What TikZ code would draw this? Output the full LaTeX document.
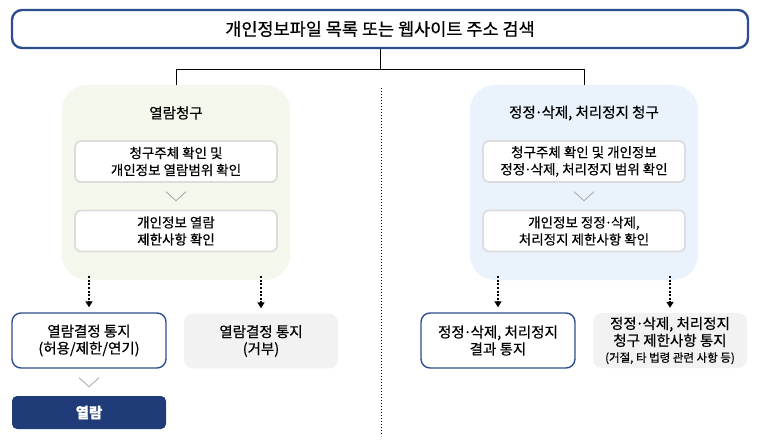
\documentclass[tikz,border=0pt]{standalone}
\usepackage{fontspec}
\setmainfont{Noto Sans CJK KR}[FakeBold=0.5]
\usetikzlibrary{arrows.meta,positioning,calc}
\definecolor{navy}{HTML}{2D4E8E}
\definecolor{darknavy}{HTML}{1F3C78}
\definecolor{greenbg}{HTML}{F4F7EC}
\definecolor{bluebg}{HTML}{EAF3FC}
\definecolor{greybg}{HTML}{F2F2F2}
\definecolor{rim}{HTML}{DCDCDC}
\definecolor{chevgrey}{HTML}{A6A6A6}
\tikzset{
  titlebox/.style={draw=navy,line width=2.4pt,rounded corners=10pt,fill=white,minimum width=736pt,
                   minimum height=38pt,font=\fontsize{17.5}{20}\selectfont},
  panel/.style={rounded corners=25pt,minimum width=228pt,minimum height=195pt,inner sep=0pt},
  ptitle/.style={font=\fontsize{14.5}{17}\selectfont},
  inner/.style={draw=rim,line width=1.8pt,rounded corners=6pt,fill=white,minimum width=202pt,
                minimum height=41pt,align=center,inner sep=2pt,font=\fontsize{13.5}{17}\selectfont},
  result/.style={draw=navy,line width=1.4pt,rounded corners=9pt,fill=white,minimum width=154pt,
                 minimum height=55pt,align=center,inner sep=2pt},
  refuse/.style={rounded corners=9pt,fill=greybg,minimum width=154pt,minimum height=55pt,align=center,
                 inner sep=2pt},
  final/.style={rounded corners=5pt,fill=darknavy,text=white,minimum width=154pt,minimum height=33pt,
                font=\fontsize{14.5}{17}\bfseries\selectfont},
  branch/.style={line width=0.9pt},
  dotarrow/.style={-{Triangle[length=6pt,width=7pt]},line width=1.8pt,dash pattern=on 2pt off 1.6pt,
                   shorten >=5pt},
  divider/.style={line width=0.9pt,dash pattern=on 1pt off 2pt},
  chev/.style={chevgrey,line width=0.8pt},
}
\newcommand{\chevron}[2]{\draw[chev] ($(#1.south)!0.5!(#2.north)+(-10,-4.5)$) -- ++(10,9) -- ++(10,-9);}
\newcommand{\mdot}{\kern-.08em·\kern-.08em}

\begin{document}
\begin{tikzpicture}[x=1pt,y=-1pt,font=\fontsize{14.5}{17}\selectfont]
  \useasboundingbox (0,0) rectangle (760,442);
  \node[titlebox] (top) at (380,29) {개인정보파일 목록 또는 웹사이트 주소 검색};

  % 열람청구
  \node[panel,fill=greenbg] (lp) at (176,182.5) {};
  \node[ptitle] (lpt) at (176,113) {열람청구};
  \node[inner] (l1) at (176,161.5) {청구주체 확인 및\\개인정보 열람범위 확인};
  \node[inner] (l2) at (176,231) {개인정보 열람\\제한사항 확인};
  \chevron{l1}{l2}

  % 정정·삭제, 처리정지 청구
  \node[panel,fill=bluebg] (rp) at (584,182.5) {};
  \node[ptitle] (rpt) at (584,113) {정정\mdot 삭제, 처리정지 청구};
  \node[inner] (r1) at (584,161.5) {청구주체 확인 및 개인정보\\정정\mdot 삭제, 처리정지 범위 확인};
  \node[inner] (r2) at (584,231) {개인정보 정정\mdot 삭제,\\처리정지 제한사항 확인};
  \chevron{r1}{r2}

  \draw[branch] (top.south) -- ++(0,20) coordinate (fork);
  \draw[branch] (fork) -| (lp.north);
  \draw[branch] (fork) -| (rp.north);

  \coordinate (d1) at (381,88);
  \coordinate (d2) at (381,436);
  \draw[divider] (d1) -- (d2);

  % 결과
  \node[result] (a1) at (89,340.5) {열람결정 통지\\(허용/제한/연기)};
  \node[refuse] (a2) at (261,341) {열람결정 통지\\(거부)};
  \node[final] (a3) at (89,412.5) {열람};
  \chevron{a1}{a3}
  \node[result] (b1) at (498,340.5) {정정\mdot 삭제, 처리정지\\결과 통지};
  \node[refuse] (b2) at (670,340.5) {\fontsize{14.5}{16}\selectfont 정정\mdot 삭제, 처리정지\\
    청구 제한사항 통지\\[-1pt]
    {\fontsize{11.5}{14}\selectfont (거절, 타 법령 관련 사항 등)}};

  \foreach \n in {a1,a2,b1,b2}
    \draw[dotarrow] ([yshift=4pt]\n.north |- lp.south) -- (\n.north);
\end{tikzpicture}
\end{document}
